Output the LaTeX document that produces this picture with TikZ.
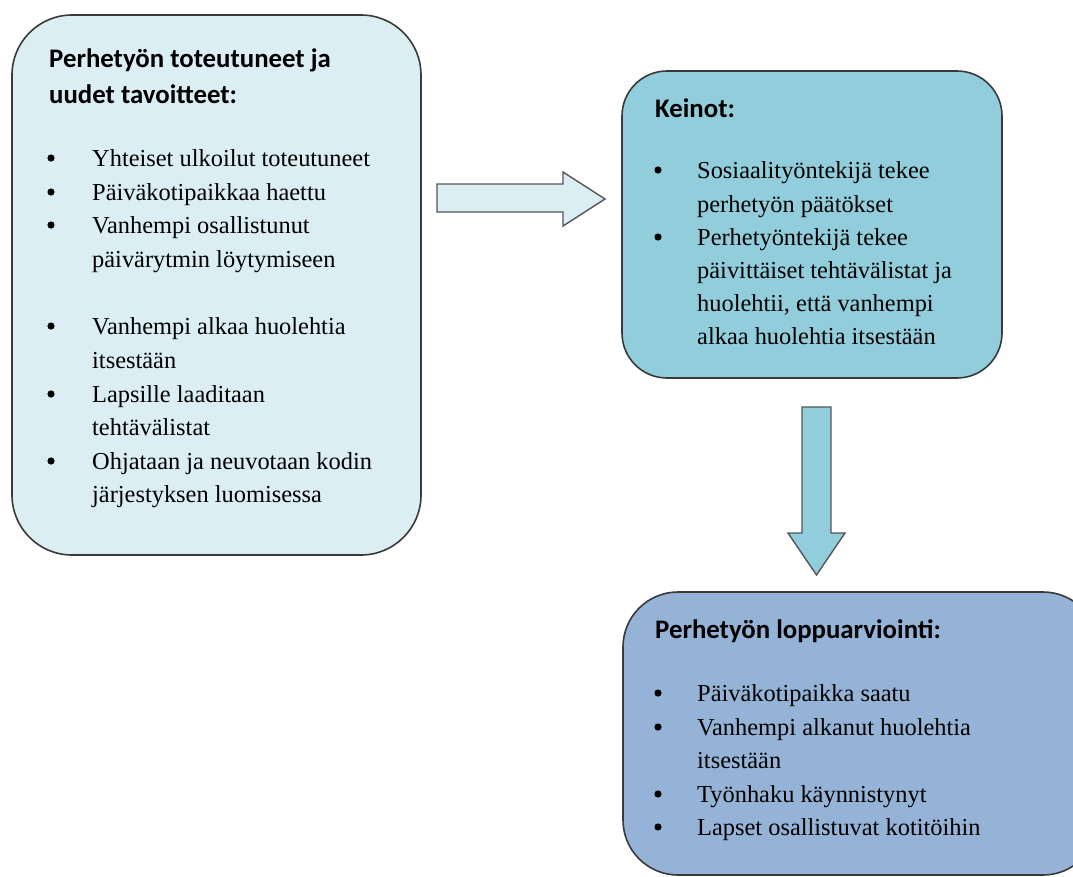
\documentclass[tikz,border=0pt]{standalone}
\usepackage{fontspec}
\setmainfont{Liberation Serif}
\newfontfamily\titlefont{Carlito}
\definecolor{boxA}{HTML}{DAEEF3}
\definecolor{boxB}{HTML}{92CDDC}
\definecolor{boxC}{HTML}{95B3D7}
\definecolor{edge}{HTML}{3A3A3A}
\definecolor{arrowedge}{HTML}{555555}
\tikzset{
  panel/.style={draw=edge, line width=1.6pt},
  blockarrow/.style={draw=arrowedge, line width=1.4pt, line join=miter},
  ttl/.style={anchor=base west, inner sep=0pt, font=\titlefont\bfseries\fontsize{26.8}{30}\selectfont},
  txt/.style={anchor=base west, inner sep=0pt, font=\fontsize{24.4}{33.6}\selectfont},
}
\newcommand{\bul}[2]{\fill (#1,#2-8) circle (3.6);}
\begin{document}
\begin{tikzpicture}[x=1pt,y=-1pt]
\clip (0,0) rectangle (1073,876);
\fill[white] (0,0) rectangle (1073,876);

% Box 1
\draw[panel, fill=boxA, rounded corners=60] (12,15) rectangle (421,555);
\node[ttl] (t1a) at (49,67) {Perhetyön toteutuneet ja};
\node[ttl] (t1b) at (49,103) {uudet tavoitteet:};
\bul{51}{166}\node[txt] (a1) at (92,166) {Yhteiset ulkoilut toteutuneet};
\bul{51}{200}\node[txt] (a2) at (92,200) {Päiväkotipaikkaa haettu};
\bul{51}{233}\node[txt] (a3) at (92,233) {Vanhempi osallistunut};
\node[txt] (a4) at (92,267) {päivärytmin löytymiseen};
\bul{51}{334}\node[txt] (a5) at (92,334) {Vanhempi alkaa huolehtia};
\node[txt] (a6) at (92,368) {itsestään};
\bul{51}{402}\node[txt] (a7) at (92,402) {Lapsille laaditaan};
\node[txt] (a8) at (92,435) {tehtävälistat};
\bul{51}{469}\node[txt] (a9) at (92,469) {Ohjataan ja neuvotaan kodin};
\node[txt] (a10) at (92,502) {järjestyksen luomisessa};

% Right arrow
\draw[blockarrow, fill=boxA] (437,184) -- (563,184) -- (563,172) -- (605,199) -- (563,226) -- (563,212) -- (437,212) -- cycle;

% Box 2
\draw[panel, fill=boxB, rounded corners=45] (622,71) rectangle (1002,378);
\node[ttl] (t2) at (655,117) {Keinot:};
\bul{658}{178}\node[txt] (b1) at (697,178) {Sosiaalityöntekijä tekee};
\node[txt] (b2) at (697,212) {perhetyön päätökset};
\bul{658}{245}\node[txt] (b3) at (697,245) {Perhetyöntekijä tekee};
\node[txt] (b4) at (697,278) {päivittäiset tehtävälistat ja};
\node[txt] (b5) at (697,311) {huolehtii, että vanhempi};
\node[txt] (b6) at (697,344) {alkaa huolehtia itsestään};

% Down arrow
\draw[blockarrow, fill=boxB] (802,407) -- (831,407) -- (831,533) -- (845,533) -- (816.5,575) -- (788,533) -- (802,533) -- cycle;

% Box 3
\draw[panel, fill=boxC, rounded corners=55] (623,592) rectangle (1098,875);
\node[ttl] (t3) at (655,638) {Perhetyön loppuarviointi:};
\bul{658}{701}\node[txt] (c1) at (697,701) {Päiväkotipaikka saatu};
\bul{658}{735}\node[txt] (c2) at (697,735) {Vanhempi alkanut huolehtia};
\node[txt] (c3) at (697,768) {itsestään};
\bul{658}{802}\node[txt] (c4) at (697,802) {Työnhaku käynnistynyt};
\bul{658}{835}\node[txt] (c5) at (697,835) {Lapset osallistuvat kotitöihin};
\end{tikzpicture}
\end{document}
